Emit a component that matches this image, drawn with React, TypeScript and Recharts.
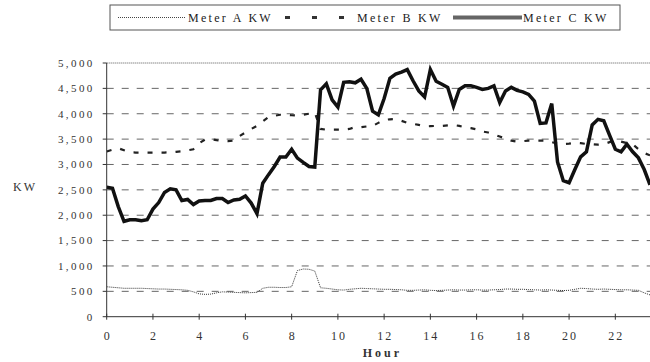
import { LineChart, Line, CartesianGrid, XAxis, YAxis, ReferenceLine } from 'recharts';

// readings every 15 minutes, 0:00 to 23:30
const meterA = [
  590, 580, 570, 560, 560, 560, 560, 555, 550, 545, 545, 540, 535, 530, 520, 490,
  450, 440, 445, 470, 490, 485, 480, 475, 470, 475, 480, 560, 580, 580, 575, 575,
  590, 910, 940, 935, 900, 570, 560, 545, 530, 525, 540, 550, 560, 555, 550, 545,
  540, 540, 535, 530, 520, 520, 525, 530, 520, 515, 520, 525, 530, 525, 525, 530,
  530, 525, 525, 530, 535, 545, 545, 540, 540, 535, 530, 525, 530, 525, 520, 515,
  520, 540, 560, 555, 545, 540, 545, 540, 535, 530, 530, 525, 520, 470, 430,
];

const meterB = [
  3255, 3290, 3320, 3280, 3240, 3235, 3235, 3235, 3235, 3235, 3235, 3240, 3250, 3260, 3280, 3300,
  3420, 3490, 3500, 3480, 3465, 3460, 3470, 3560, 3630, 3700, 3760, 3850, 3935, 3960, 3980, 3980,
  3970, 3965, 3980, 4000, 4025, 3700, 3685, 3685, 3685, 3685, 3700, 3740, 3735, 3750, 3760, 3820,
  3880, 3890, 3895, 3860, 3820, 3800, 3780, 3750, 3755, 3760, 3760, 3770, 3780, 3760, 3730, 3715,
  3690, 3650, 3630, 3590, 3550, 3510, 3470, 3450, 3460, 3470, 3470, 3470, 3470, 3440, 3410, 3400,
  3410, 3430, 3420, 3405, 3400, 3390, 3400, 3440, 3470, 3450, 3420, 3400, 3300, 3225, 3180,
];

const meterC = [
  2550, 2530, 2170, 1880, 1910, 1910, 1890, 1910, 2120, 2250, 2450, 2520, 2500, 2290, 2310, 2210,
  2280, 2290, 2290, 2330, 2330, 2250, 2300, 2315, 2380, 2240, 2030, 2630, 2800, 2960, 3145, 3145,
  3300, 3125, 3040, 2960, 2950, 4470, 4590, 4275, 4130, 4620, 4630, 4610, 4680, 4500, 4050, 3980,
  4300, 4700, 4780, 4820, 4870, 4650, 4450, 4330, 4870, 4640, 4580, 4520, 4150, 4480, 4550, 4550,
  4520, 4480, 4500, 4550, 4220, 4450, 4520, 4460, 4430, 4380, 4250, 3810, 3820, 4200, 3050, 2680,
  2640, 2900, 3150, 3250, 3780, 3890, 3860, 3580, 3300, 3250, 3400, 3250, 3130, 2900, 2600,
];

const hours = meterC.map((_, i) => i / 4);
const hourTicks = [0, 2, 4, 6, 8, 10, 12, 14, 16, 18, 20, 22];
const kwTicks = [0, 500, 1000, 1500, 2000, 2500, 3000, 3500, 4000, 4500, 5000];
const gridValues = [500, 1000, 1500, 2000, 2500, 3000, 3500, 4000, 4500];

const data = hours.map((hour, i) => ({
  hour,
  a: meterA[i],
  b: meterB[i],
  c: meterC[i],
}));

const serif = '"Liberation Serif", "Times New Roman", serif';

const HourTick = (props: any) => {
  const { x, y, payload } = props;
  return (
    <g>
      <line x1={x} x2={x} y1={y - 18} y2={y - 12} stroke="#333" />
      <text x={x + 1} y={y} dy="0.71em" textAnchor="middle" fontFamily={serif} fontSize={12}
        letterSpacing={2} fill="#333">
        {payload.value}
      </text>
    </g>
  );
};

const MeterLegend = () => (
  <svg width={520} height={30} style={{ position: 'absolute', left: 108, top: 4 }}>
    <rect x={2} y={1} width={510} height={25} fill="#fff" stroke="#555" />
    <line x1={10} x2={77} y1={13.5} y2={13.5} stroke="#444" strokeDasharray="1 1" />
    <text x={80} y={17.5} fontFamily={serif} fontSize={12} letterSpacing={2.3} fill="#222">Meter A KW</text>
    <line x1={177} x2={236} y1={13.5} y2={13.5} stroke="#333" strokeWidth={3} strokeDasharray="5 22" />
    <text x={249} y={17.5} fontFamily={serif} fontSize={12} letterSpacing={2.3} fill="#222">Meter B KW</text>
    <line x1={345} x2={414} y1={13.5} y2={13.5} stroke="#666" strokeWidth={4} />
    <text x={415} y={17.5} fontFamily={serif} fontSize={12} letterSpacing={2.3} fill="#222">Meter C KW</text>
  </svg>
);

export default function App() {
  return (
    <div style={{ position: 'absolute', left: 0, top: 0, width: 650, height: 362 }}>
      <LineChart width={650} height={362} data={data}
        margin={{ top: 63, right: 0, left: 0, bottom: 0 }}>
        <CartesianGrid vertical={false} horizontalValues={gridValues} stroke="#666" strokeDasharray="7 8" />
        <ReferenceLine y={5000} stroke="#555" strokeDasharray="1 1" />
        <XAxis dataKey="hour" type="number" domain={[0, 23.5]} ticks={hourTicks} allowDataOverflow
          height={45.3} stroke="#333" tickLine={false} tickSize={0} tickMargin={15} tick={<HourTick />}
          label={{ value: 'Hour', position: 'insideBottom', offset: 5, dx: 4, fontFamily: serif,
            fontSize: 12, fontWeight: 'bold', letterSpacing: 3, fill: '#333' }} />
        <YAxis type="number" domain={[0, 5000]} ticks={kwTicks} width={106.7} stroke="#333"
          tickSize={4} tickMargin={8}
          tickFormatter={(v: number) => v.toLocaleString('en-US')}
          tick={{ fontFamily: serif, fontSize: 11, letterSpacing: 2.4, fill: '#333' }}
          label={{ value: 'KW', position: 'insideLeft', offset: 13, dy: -3, fontFamily: serif,
            fontSize: 12, letterSpacing: 2, fill: '#333' }} />
        <Line type="linear" dataKey="a" name="Meter A KW" stroke="#333" strokeWidth={1}
          strokeDasharray="1 1" dot={false} isAnimationActive={false} />
        <Line type="linear" dataKey="b" name="Meter B KW" stroke="#222" strokeWidth={2.2}
          strokeDasharray="5 9" dot={false} isAnimationActive={false} />
        <Line type="linear" dataKey="c" name="Meter C KW" stroke="#111" strokeWidth={3.5}
          dot={false} isAnimationActive={false} />
      </LineChart>
      <MeterLegend />
    </div>
  );
}
